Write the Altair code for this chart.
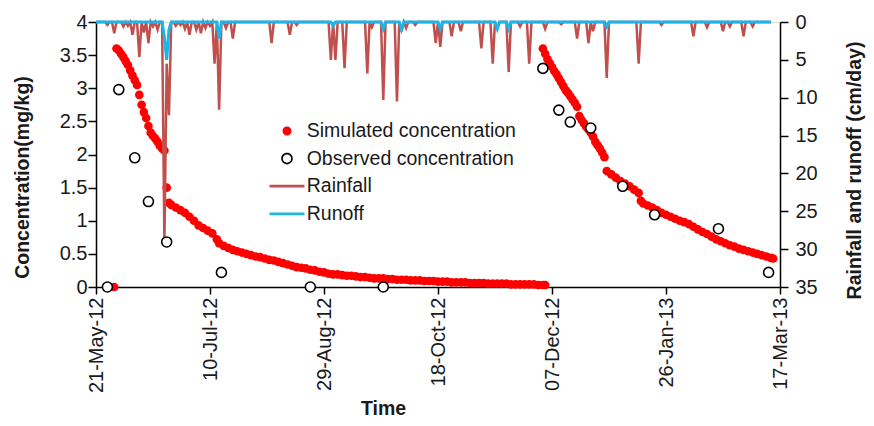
import altair as alt
import pandas as pd

# ---------------- data (days counted from 21-May-12) ----------------
x_tick_days = [0, 50, 100, 150, 200, 250, 300]
x_tick_labels = ["21-May-12", "10-Jul-12", "29-Aug-12", "18-Oct-12",
                 "07-Dec-12", "26-Jan-13", "17-Mar-13"]
y_left_ticks = [0, 0.5, 1, 1.5, 2, 2.5, 3, 3.5, 4]
y_right_ticks = [0, 5, 10, 15, 20, 25, 30, 35]

series_names = ["Simulated concentration", "Observed concentration", "Rainfall", "Runoff"]
series_colors = ["#FF0000", "#000000", "#C0504D", "#1CB5EA"]

# simulated concentration, first season
sim1_days = [8, 9, 10, 11, 12, 13, 14, 15, 16, 17, 18, 19, 20, 21, 22, 23, 24, 25, 26, 27,
             28, 29, 30, 31, 32, 33, 35, 37, 39, 41, 43, 45, 47, 49, 51, 53, 54, 56, 58, 60,
             62, 64, 66, 68, 70, 72, 74, 76, 78, 80, 82, 84, 86, 88, 90, 92, 94, 96, 98, 100,
             102, 104, 106, 108, 110, 112, 114, 116, 118, 120, 122, 124, 126, 128, 130, 132,
             134, 136, 138, 140, 142, 144, 146, 148, 150, 152, 154, 156, 158, 160, 162, 164,
             166, 168, 170, 172, 174, 176, 178, 180, 182, 184, 186, 188, 190, 192, 194, 196,
             197]
sim1_vals = [0.00, 3.60, 3.57, 3.52, 3.47, 3.41, 3.35, 3.27, 3.19, 3.12, 3.05, 2.90, 2.75,
             2.64, 2.55, 2.43, 2.33, 2.28, 2.24, 2.19, 2.13, 2.09, 2.06, 1.50, 1.27, 1.24,
             1.20, 1.16, 1.12, 1.06, 1.00, 0.93, 0.89, 0.85, 0.81, 0.72, 0.66, 0.62, 0.59,
             0.56, 0.54, 0.52, 0.50, 0.48, 0.46, 0.45, 0.43, 0.41, 0.40, 0.38, 0.36, 0.34,
             0.32, 0.30, 0.29, 0.28, 0.26, 0.25, 0.23, 0.22, 0.20, 0.19, 0.19, 0.18, 0.17,
             0.17, 0.16, 0.15, 0.15, 0.14, 0.13, 0.13, 0.13, 0.12, 0.12, 0.11, 0.11, 0.11,
             0.10, 0.10, 0.10, 0.09, 0.09, 0.09, 0.08, 0.08, 0.08, 0.07, 0.07, 0.07, 0.07,
             0.06, 0.06, 0.06, 0.06, 0.05, 0.05, 0.05, 0.05, 0.05, 0.04, 0.04, 0.04, 0.04,
             0.04, 0.04, 0.03, 0.03, 0.03]

# simulated concentration, second season
sim2_days = [196, 197, 198, 199, 200, 201, 202, 203, 204, 205, 206, 207, 208, 209, 210, 211,
             212, 213, 214, 215, 216, 217, 218, 219, 220, 221, 222, 223, 224, 226, 228, 230,
             232, 234, 236, 238, 239, 240, 242, 244, 246, 248, 250, 252, 254, 256, 258, 260,
             262, 264, 266, 268, 270, 272, 274, 276, 278, 280, 282, 284, 286, 288, 290, 292,
             294, 296, 297]
sim2_vals = [3.60, 3.52, 3.44, 3.38, 3.32, 3.26, 3.21, 3.15, 3.09, 3.03, 2.97, 2.93, 2.88,
             2.83, 2.78, 2.72, 2.58, 2.52, 2.47, 2.42, 2.38, 2.33, 2.27, 2.19, 2.14, 2.09,
             2.03, 1.96, 1.75, 1.70, 1.65, 1.60, 1.56, 1.52, 1.47, 1.42, 1.30, 1.26, 1.23,
             1.20, 1.16, 1.12, 1.09, 1.06, 1.03, 1.00, 0.98, 0.95, 0.91, 0.87, 0.83, 0.80,
             0.76, 0.72, 0.69, 0.66, 0.63, 0.61, 0.58, 0.56, 0.54, 0.52, 0.50, 0.48, 0.46,
             0.44, 0.43]

# observed concentration
obs_days = [5, 10, 17, 23, 31, 55, 94, 126, 196, 203, 208, 217, 231, 245, 273, 295]
obs_vals = [0.00, 2.98, 1.95, 1.29, 0.68, 0.22, 0.00, 0.00, 3.30, 2.67, 2.49, 2.40, 1.52,
            1.09, 0.88, 0.22]

# rainfall (cm/day) on rainy days; all other days are dry (0)
rain_days = [5, 8, 12, 14, 16, 19, 21, 23, 25, 27, 30, 31, 32, 35, 37, 39, 41, 44, 46, 48,
             50, 52, 54, 57, 60, 77, 85, 88, 103, 105, 109, 119, 121, 126, 132, 134, 136,
             140, 149, 151, 156, 160, 169, 174, 176, 181, 186, 190, 197, 204, 211, 216, 218,
             224, 238, 248, 262, 268, 275, 278, 284, 288]
rain_vals = [0.4, 1.5, 0.6, 0.5, 1.7, 4.6, 1.4, 2.8, 0.6, 1.0, 29.2, 5.5, 12.3, 0.5, 0.4,
             0.9, 1.7, 1.0, 1.5, 0.8, 0.5, 5.5, 11.6, 0.8, 2.2, 2.8, 1.7, 0.4, 5.0, 5.0, 6.1,
             6.8, 0.7, 10.3, 10.5, 1.2, 0.8, 0.4, 2.8, 3.3, 1.9, 1.2, 3.5, 5.5, 0.8, 6.6, 0.6,
             5.5, 0.9, 0.3, 2.2, 2.8, 1.2, 7.4, 5.5, 0.4, 1.9, 0.7, 1.2, 0.6, 1.9, 0.6]

# runoff (cm/day) on runoff days; all other days 0
runoff_days = [30, 31, 32, 54, 104, 126, 134, 151, 176, 181, 224]
runoff_vals = [2.0, 5.0, 1.0, 2.2, 0.5, 0.9, 1.0, 0.9, 0.9, 0.9, 0.6]

last_day = 296

# ---------------- tables ----------------
sim_df = pd.DataFrame({"day": sim1_days + sim2_days, "conc": sim1_vals + sim2_vals})
obs_df = pd.DataFrame({"day": obs_days, "conc": obs_vals})
all_days = list(range(0, last_day + 1))
rain_map = dict(zip(rain_days, rain_vals))
runoff_map = dict(zip(runoff_days, runoff_vals))
rain_df = pd.DataFrame({"day": all_days, "val": [rain_map.get(d, 0.0) for d in all_days]})
runoff_df = pd.DataFrame({"day": all_days, "val": [runoff_map.get(d, 0.0) for d in all_days]})
legend_df = pd.DataFrame({"series": series_names})

FONT = "Liberation Sans"
TXT = "#1a1a1a"

label_expr = " : ".join(f"datum.value == {v} ? '{l}'" for v, l in zip(x_tick_days, x_tick_labels)) + " : ''"

x_scale = alt.Scale(domain=[0, 300], nice=False, zero=False)
yl_scale = alt.Scale(domain=[0, 4], nice=False)
yr_scale = alt.Scale(domain=[0, 35], nice=False, reverse=True)

common_axis = dict(grid=False, domainColor="black", domainWidth=1.5, tickColor="black",
                   tickWidth=1.5, labelFontSize=20, labelColor=TXT, labelFont=FONT,
                   titleFont=FONT, titleFontSize=19.5, titleFontWeight="bold", titleColor=TXT)

x_axis = alt.Axis(values=x_tick_days, labelExpr=label_expr, labelAngle=270, tickSize=7,
                  labelPadding=3, title="Time", titleX=287, titleY=121,
                  titleBaseline="middle", labelFlush=False, **common_axis)
yl_axis = alt.Axis(values=y_left_ticks, format=".1~f", tickSize=8, labelPadding=1,
                   title="Concentration(mg/kg)", titleAngle=270, titleX=-74, titleY=155,
                   titleBaseline="middle", **common_axis)
yr_axis = alt.Axis(orient="right", values=y_right_ticks, format="d", tickSize=8,
                   labelPadding=7, title="Rainfall and runoff (cm/day)", titleAngle=270,
                   titleX=74, titleY=148, titleBaseline="middle", **common_axis)

# legend glyphs (unit = 10 px with symbolSize 400)
dot_path = "M-0.45,0A0.45,0.45 0 1,0 0.45,0A0.45,0.45 0 1,0 -0.45,0Z"
ring_path = ("M-0.58,0A0.58,0.58 0 1,0 0.58,0A0.58,0.58 0 1,0 -0.58,0Z"
             "M-0.42,0A0.42,0.42 0 1,1 0.42,0A0.42,0.42 0 1,1 -0.42,0Z")
bar_path = "M-1.75,-0.14H1.75V0.14H-1.75Z"

legend = alt.Legend(
    title=None, orient="none", legendX=181, legendY=99,
    labelFontSize=19.5, labelFont=FONT, labelColor=TXT, labelOffset=9.7, labelLimit=500,
    rowPadding=7.6, padding=0, symbolSize=400, symbolStrokeWidth=0, symbolOpacity=1,
)

legend_layer = alt.Chart(legend_df).mark_point(filled=True, opacity=0, strokeWidth=0).encode(
    x=alt.value(0), y=alt.value(0),
    fill=alt.Fill("series:N", scale=alt.Scale(domain=series_names, range=series_colors),
                  legend=legend),
    shape=alt.Shape("series:N", scale=alt.Scale(domain=series_names,
                                                range=[dot_path, ring_path, bar_path, bar_path]),
                    legend=legend),
)

sim = alt.Chart(sim_df).mark_point(filled=True, fill="#FF0000", size=75, strokeWidth=0,
                                   opacity=1).encode(
    x=alt.X("day:Q", scale=x_scale, axis=x_axis),
    y=alt.Y("conc:Q", scale=yl_scale, axis=yl_axis))

rain = alt.Chart(rain_df).mark_line(stroke="#C0504D", strokeWidth=2.5).encode(
    x=alt.X("day:Q", scale=x_scale, axis=x_axis),
    y=alt.Y("val:Q", scale=yr_scale, axis=yr_axis),
    order="day:Q")

runoff = alt.Chart(runoff_df).mark_line(stroke="#1CB5EA", strokeWidth=3).encode(
    x=alt.X("day:Q", scale=x_scale, axis=x_axis),
    y=alt.Y("val:Q", scale=yr_scale, axis=None),
    order="day:Q")

obs = alt.Chart(obs_df).mark_point(filled=True, fill="#FFFFFF", stroke="#000000", size=100,
                                   strokeWidth=1.6, opacity=1).encode(
    x=alt.X("day:Q", scale=x_scale, axis=x_axis),
    y=alt.Y("conc:Q", scale=yl_scale, axis=None))

chart = alt.layer(sim, rain, runoff, obs, legend_layer).resolve_scale(y="independent").properties(
    width=684, height=265,
    padding={"left": 88, "top": 14, "right": 86, "bottom": 131},
    autosize=alt.AutoSizeParams(type="none"),
).configure_view(stroke=None).configure(font=FONT, background="white")

chart.save("out.html", embed_options={"renderer": "svg", "actions": False})
